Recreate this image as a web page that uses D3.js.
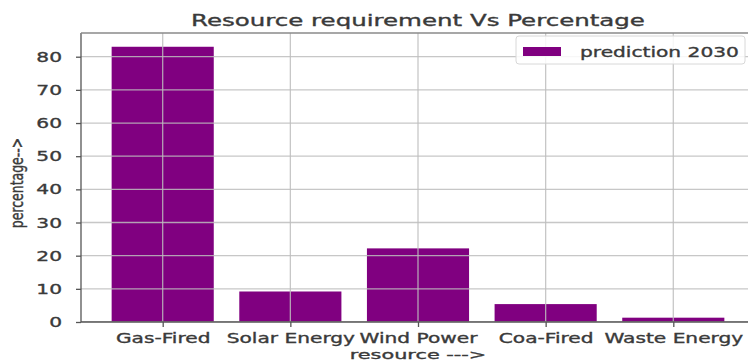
<!DOCTYPE html>
<html>
<head>
<meta charset="utf-8">
<script src="https://cdn.jsdelivr.net/npm/d3@7"></script>
<style>
  html, body { margin: 0; padding: 0; background: #fff; }
  svg { display: block; }
  text { font-family: "DejaVu Sans", sans-serif; }
</style>
</head>
<body>
<svg id="chart" width="748" height="363"></svg>
<script>
// Energy resources and their predicted share for 2030
const categories = ["Gas-Fired", "Solar Energy", "Wind Power", "Coa-Fired", "Waste Energy"];
const prediction2030 = [83, 9.2, 22.2, 5.4, 1.3];
const yTicks = [0, 10, 20, 30, 40, 50, 60, 70, 80];
const seriesName = "prediction 2030";
const titleText = "Resource requirement Vs Percentage";
const xLabel = "resource  --->";
const yLabel = "percentage-->";

const W = 748, H = 363;
const plot = { left: 81, right: 755, top: 33, bottom: 322 };
const BAR = "#800080";
const INK = "#3a3a3a";

const svg = d3.select("#chart");

// widen glyphs horizontally while keeping their height; a thin stroke thickens them
function stretch(sel, k) {
  sel.each(function () {
    const w = this.getComputedTextLength();
    d3.select(this).attr("textLength", w * k).attr("lengthAdjust", "spacingAndGlyphs")
      .attr("stroke", INK).attr("stroke-width", 0.35);
  });
}

const idx = categories.map((_, i) => i);
const x = d3.scaleLinear().domain([-0.64, categories.length - 1 + 0.64]).range([plot.left, plot.right]);
const barW = x(0.8) - x(0);
const yMax = d3.max(prediction2030) * 1.05;
const y = d3.scaleLinear().domain([0, yMax]).range([plot.bottom, plot.top]);

svg.append("defs").append("clipPath").attr("id", "plotclip")
  .append("rect").attr("x", plot.left).attr("y", plot.top)
  .attr("width", plot.right - plot.left).attr("height", plot.bottom - plot.top);

// bars
svg.append("g").selectAll("rect").data(prediction2030).join("rect")
  .attr("x", (d, i) => x(i) - barW / 2)
  .attr("y", d => y(d))
  .attr("width", barW)
  .attr("height", d => y(0) - y(d))
  .attr("fill", BAR);

// grid drawn over the bars
const grid = svg.append("g").attr("clip-path", "url(#plotclip)")
  .attr("stroke", "#bdbdbd").attr("stroke-opacity", 0.85).attr("stroke-width", 1.3);
grid.selectAll("line.h").data(yTicks).join("line").attr("class", "h")
  .attr("x1", plot.left).attr("x2", plot.right)
  .attr("y1", d => y(d)).attr("y2", d => y(d));
grid.selectAll("line.v").data(idx).join("line").attr("class", "v")
  .attr("x1", d => x(d)).attr("x2", d => x(d))
  .attr("y1", plot.top).attr("y2", plot.bottom);

// spines
const spines = svg.append("g").attr("stroke", "#555").attr("stroke-width", 1.3);
spines.append("line").attr("x1", plot.left).attr("x2", plot.left).attr("y1", plot.top).attr("y2", plot.bottom);
spines.append("line").attr("x1", plot.left).attr("x2", plot.right).attr("y1", plot.bottom).attr("y2", plot.bottom);
spines.append("line").attr("x1", plot.left).attr("x2", plot.right).attr("y1", plot.top).attr("y2", plot.top)
  .attr("stroke", "#8a8a8a");
spines.append("line").attr("x1", plot.right).attr("x2", plot.right).attr("y1", plot.top).attr("y2", plot.bottom);

// y axis
const yAxis = svg.append("g").attr("transform", `translate(${plot.left},0)`)
  .call(d3.axisLeft(y).tickValues(yTicks).tickSize(5).tickPadding(14));
yAxis.select(".domain").remove();
yAxis.selectAll(".tick line").attr("stroke", "#555").attr("stroke-width", 1.3);
yAxis.selectAll(".tick text").attr("font-size", 14).attr("fill", INK)
  .attr("font-family", "DejaVu Sans").call(stretch, 1.44);

// x axis
const xAxis = svg.append("g").attr("transform", `translate(0,${plot.bottom})`)
  .call(d3.axisBottom(x).tickValues(idx).tickFormat(i => categories[i]).tickSize(5).tickPadding(6));
xAxis.select(".domain").remove();
xAxis.selectAll(".tick line").attr("stroke", "#555").attr("stroke-width", 1.3);
xAxis.selectAll(".tick text").attr("font-size", 14).attr("fill", INK)
  .attr("font-family", "DejaVu Sans").call(stretch, 1.44);

// title
svg.append("text").attr("x", (plot.left + plot.right) / 2).attr("y", 26)
  .attr("text-anchor", "middle").attr("font-size", 16).attr("fill", INK)
  .text(titleText).call(stretch, 1.53);

// axis labels
svg.append("text").attr("x", (plot.left + plot.right) / 2).attr("y", 359)
  .attr("text-anchor", "middle").attr("font-size", 13).attr("fill", INK)
  .text(xLabel).call(stretch, 1.6);

svg.append("text")
  .attr("transform", `translate(23,183) scale(1.4,1) rotate(-90)`)
  .attr("text-anchor", "middle").attr("font-size", 12.5).attr("fill", INK)
  .attr("stroke", INK).attr("stroke-width", 0.3)
  .text(yLabel);

// legend
const lg = svg.append("g");
lg.append("rect").attr("x", 516).attr("y", 36).attr("width", 229).attr("height", 28).attr("rx", 3)
  .attr("fill", "#fff").attr("fill-opacity", 0.85).attr("stroke", "#d8d8d8");
lg.append("rect").attr("x", 523).attr("y", 47).attr("width", 38).attr("height", 9).attr("fill", BAR);
lg.append("text").attr("x", 580).attr("y", 57).attr("font-size", 14).attr("fill", INK)
  .text(seriesName).call(stretch, 1.44);
</script>
</body>
</html>
